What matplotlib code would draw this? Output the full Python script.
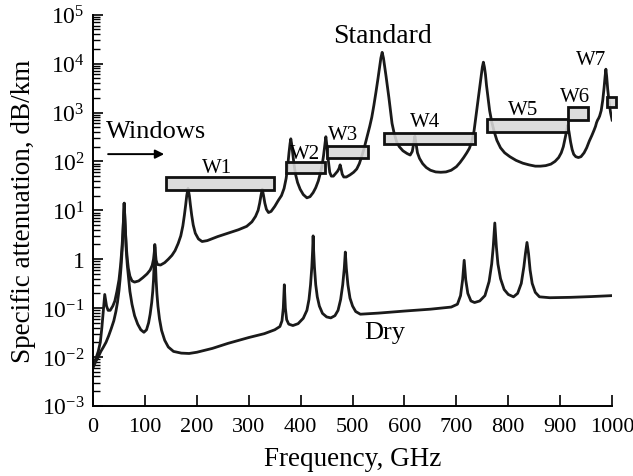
import matplotlib
matplotlib.use('Agg')
import matplotlib.pyplot as plt
from matplotlib.patches import Rectangle
from matplotlib.ticker import FixedLocator, FixedFormatter, LogLocator, NullFormatter

plt.rcParams['font.family'] = ['Liberation Serif', 'DejaVu Serif']
plt.rcParams['mathtext.fontset'] = 'custom'
plt.rcParams['mathtext.rm'] = 'Liberation Serif'
plt.rcParams['mathtext.it'] = 'Liberation Serif:italic'


# Dry air attenuation (GHz, dB/km)
dry_freq = [0, 5, 10, 15, 20, 25, 30, 35, 40, 44, 47, 50, 52, 54, 56, 57.5, 59,
            60, 61, 62.5, 64, 66, 68, 71, 75, 80, 86, 92, 98, 103, 107, 110,
            113, 115, 116.5, 118, 119, 120, 121.5, 123, 125, 128, 132, 138,
            145, 155, 170, 185, 200, 230, 260, 300, 330, 350, 360, 364, 366.5,
            368.5, 370.5, 373, 377, 385, 395, 405, 412, 416, 419, 421.5, 423,
            424, 425, 426.5, 429, 432, 436, 442, 450, 458, 466, 472, 477, 481,
            484, 486, 488, 491, 495, 500, 506, 515, 550, 600, 650, 690, 702,
            708, 712, 715, 718, 722, 728, 735, 745, 755, 763, 768, 771, 774,
            777, 780, 785, 792, 800, 810, 818, 825, 830, 833, 836, 839, 842,
            846, 852, 860, 880, 920, 960, 1000]
dry_att = [0.006, 0.008, 0.010, 0.013, 0.016, 0.02, 0.027, 0.038, 0.055, 0.085,
           0.13, 0.23, 0.38, 0.7, 1.5, 3.2, 8, 14, 8, 3.2, 1.5, 0.75, 0.45,
           0.22, 0.12, 0.07, 0.047, 0.036, 0.032, 0.036, 0.05, 0.075, 0.13,
           0.22, 0.38, 0.9, 1.8, 0.9, 0.38, 0.2, 0.11, 0.06, 0.035, 0.022,
           0.016, 0.013, 0.012, 0.0118, 0.0125, 0.015, 0.019, 0.025, 0.03,
           0.036, 0.042, 0.055, 0.1, 0.3, 0.1, 0.058, 0.047, 0.044, 0.048,
           0.062, 0.09, 0.15, 0.3, 0.7, 1.5, 3.0, 1.5, 0.7, 0.3, 0.17, 0.11,
           0.078, 0.066, 0.063, 0.07, 0.09, 0.15, 0.3, 0.65, 1.4, 0.65, 0.3,
           0.16, 0.11, 0.085, 0.075, 0.079, 0.087, 0.095, 0.105, 0.12, 0.18,
           0.38, 0.95, 0.38, 0.2, 0.14, 0.13, 0.14, 0.18, 0.35, 0.8, 1.8, 5.5,
           1.8, 0.8, 0.4, 0.24, 0.19, 0.17, 0.2, 0.32, 0.7, 1.3, 2.2, 1.3, 0.6,
           0.32, 0.21, 0.17, 0.163, 0.166, 0.172, 0.18]

# Standard atmosphere attenuation
std_freq = [0, 5, 10, 14, 17, 19, 21, 22.5, 24, 26, 29, 33, 38, 42, 46, 50, 53,
            55.5, 57.5, 59, 60, 61, 62.5, 64, 66, 68, 71, 75, 80, 88, 96, 104,
            110, 114, 116.5, 118, 119, 120, 121.5, 124, 130, 138, 145, 152,
            158, 164, 169, 173, 176, 178.5, 180.5, 183, 185.5, 187.5, 190, 193,
            197, 203, 210, 220, 240, 260, 280, 296, 306, 313, 318, 321, 323.5,
            326, 328.5, 331, 334, 338, 343, 350, 357, 363, 368, 372, 375, 377.5,
            379.5, 381, 382.5, 384.5, 387, 390, 394, 399, 405, 412, 418, 424,
            429, 434, 438, 441, 444, 446.5, 448.5, 450.5, 453, 456, 459, 463,
            467, 471, 474, 476, 478, 480, 483, 488, 495, 502, 508, 513, 518,
            523, 528, 533, 537, 541, 545, 549, 552, 554.5, 557, 559.5, 562,
            564.5, 567, 570, 573, 576, 580, 585, 590, 597, 605, 611, 615, 618,
            620, 622, 625, 629, 635, 642, 650, 660, 670, 680, 690, 700, 707,
            714, 720, 725, 730, 734, 738, 742, 745, 748, 750, 752, 754, 756,
            758, 761, 764, 768, 773, 778, 785, 793, 803, 815, 828, 840, 852,
            862, 872, 882, 890, 897, 902, 906, 909, 912, 914.5, 917, 920, 923,
            926, 930, 935, 940, 946, 951, 956, 961, 965, 968, 970, 972, 974,
            976, 979, 982, 984.5, 986.5, 988, 989.5, 991.5, 994, 997, 1000]
std_att = [0.007, 0.009, 0.013, 0.02, 0.04, 0.07, 0.13, 0.19, 0.15, 0.11, 0.09,
           0.09, 0.11, 0.14, 0.22, 0.38, 0.75, 1.6, 3.5, 8, 14, 8, 3.6, 1.8,
           1.0, 0.65, 0.45, 0.36, 0.34, 0.36, 0.42, 0.5, 0.6, 0.75, 1.0, 1.4,
           2.0, 1.4, 0.95, 0.78, 0.76, 0.85, 1.0, 1.2, 1.5, 2.1, 3.0, 4.8, 8,
           13, 20, 28, 20, 13, 8, 5, 3.4, 2.6, 2.3, 2.4, 2.9, 3.4, 4.0, 4.7,
           5.8, 7.5, 10, 14, 20, 27, 20, 14, 10.5, 9, 9.5, 12, 16, 20, 28, 45,
           80, 150, 230, 290, 230, 150, 90, 55, 37, 27, 21, 18, 19, 23, 29, 40,
           58, 80, 130, 210, 320, 210, 110, 60, 50, 50, 56, 63, 72, 85, 70, 55,
           48, 48, 53, 60, 70, 90, 130, 200, 320, 520, 800, 1400, 2600, 5000,
           8500, 13000, 17000, 13000, 8500, 5500, 3500, 2000, 1100, 600, 380,
           250, 200, 165, 145, 135, 160, 240, 330, 240, 150, 115, 90, 75, 66,
           61, 60, 61, 66, 78, 95, 120, 150, 185, 260, 420, 900, 1900, 3500,
           6000, 8500, 10700, 8500, 6000, 3600, 2000, 1100, 650, 400, 270, 190,
           150, 125, 105, 92, 85, 80, 80, 82, 88, 100, 120, 150, 200, 280, 400,
           550, 400, 250, 175, 140, 125, 120, 125, 150, 190, 260, 340, 430,
           520, 620, 700, 760, 850, 1100, 1800, 3200, 5500, 7700, 5500, 3000,
           1700, 1000, 700]

# Transparency windows
win_names = ['W1', 'W2', 'W3', 'W4', 'W5', 'W6', 'W7']
win_f0 = [141, 372, 451, 561, 759, 915, 990]
win_f1 = [349, 447, 530, 736, 915, 954, 1008]
win_lo = [26, 57, 116, 225, 400, 700, 1270]
win_hi = [48, 96, 204, 380, 730, 1270, 2050]
# label anchor (GHz, dB/km at text baseline)
win_lab_f = [239, 408, 482, 640, 828, 928, 959]
win_lab_a = [60, 116, 285, 525, 920, 1700, 9700]

yticks = [1e-3, 1e-2, 1e-1, 1, 1e1, 1e2, 1e3, 1e4, 1e5]
ytick_labels = ['$10^{-3}$', '$10^{-2}$', '$10^{-1}$', '1', '$10^{1}$',
                '$10^{2}$', '$10^{3}$', '$10^{4}$', '$10^{5}$']
xticks = [0, 100, 200, 300, 400, 500, 600, 700, 800, 900, 1000]


fig = plt.figure(figsize=(6.33, 4.77), dpi=100)
ax = fig.add_axes([0.147, 0.147, 0.820, 0.820])

ax.plot(std_freq, std_att, color='#1a1a1a', lw=2.0, zorder=2,
        solid_joinstyle='round')
ax.plot(dry_freq, dry_att, color='#1a1a1a', lw=2.0, zorder=2,
        solid_joinstyle='round')

for name, f0, f1, lo, hi, lf, la in zip(win_names, win_f0, win_f1, win_lo,
                                        win_hi, win_lab_f, win_lab_a):
    ax.add_patch(Rectangle((f0, lo), f1 - f0, hi - lo,
                           facecolor=(0.85, 0.85, 0.85, 0.88),
                           edgecolor='#111111', lw=2.0, zorder=3,
                           clip_on=False))
    ax.text(lf, la, name, fontsize=15, ha='center', va='baseline', zorder=4)

ax.text(558, 27500, 'Standard', fontsize=20, ha='center', va='baseline')
ax.text(561, 0.024, 'Dry', fontsize=19, ha='center', va='baseline')
ax.text(121, 313, 'Windows', fontsize=19, ha='center', va='baseline')
ax.annotate('', xy=(137, 141), xytext=(29, 141),
            arrowprops=dict(arrowstyle='-|>', color='k', lw=1.4,
                            mutation_scale=13, shrinkA=0, shrinkB=0))

ax.set_yscale('log')
ax.set_xlim(0, 1000)
ax.set_ylim(1e-3, 1e5)

ax.yaxis.set_major_locator(FixedLocator(yticks))
ax.yaxis.set_major_formatter(FixedFormatter(ytick_labels))
ax.yaxis.set_minor_locator(LogLocator(base=10, subs=range(2, 10), numticks=20))
ax.yaxis.set_minor_formatter(NullFormatter())
ax.set_xticks(xticks)

for side in ['top', 'right']:
    ax.spines[side].set_visible(False)
for side in ['left', 'bottom']:
    ax.spines[side].set_linewidth(1.4)

ax.tick_params(axis='y', which='major', direction='in', length=7, width=1.2,
               labelsize=17, pad=6)
ax.tick_params(axis='y', which='minor', direction='in', length=5, width=1.0)
ax.tick_params(axis='x', which='major', direction='in', length=8, width=1.2,
               labelsize=16, pad=8)

ax.set_xlabel('Frequency, GHz', fontsize=19.5, labelpad=7)
ax.set_ylabel('Specific attenuation, dB/km', fontsize=19.5, labelpad=4)

fig.savefig('out.png', dpi=100)
